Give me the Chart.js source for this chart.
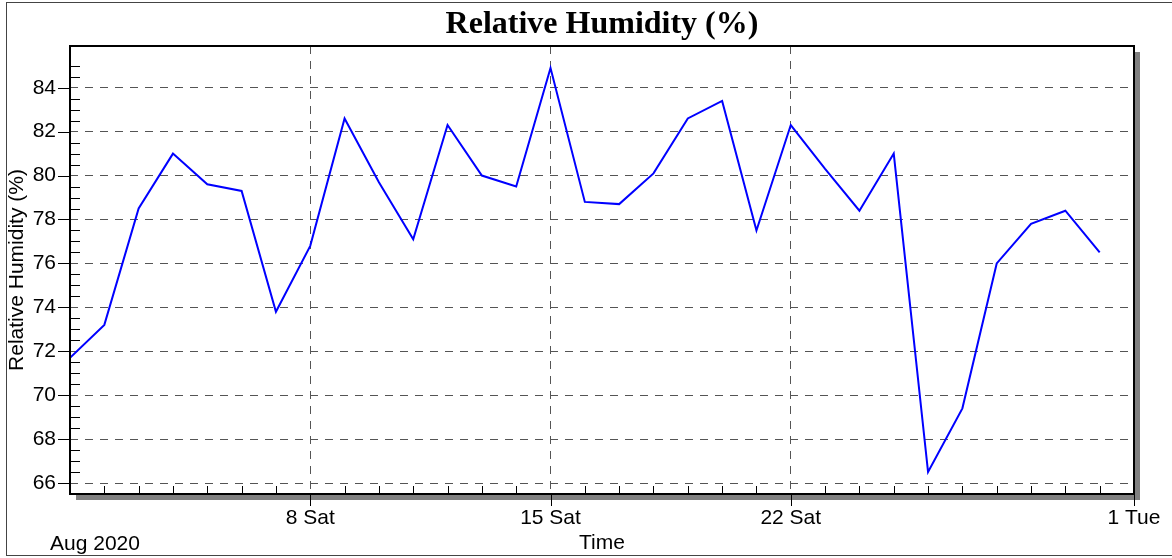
<!DOCTYPE html>
<html>
<head>
<meta charset="utf-8">
<script src="https://cdn.jsdelivr.net/npm/chart.js@4.4.0/dist/chart.umd.min.js"></script>
<style>
  html, body { margin: 0; padding: 0; background: #fff; }
  canvas { display: block; }
</style>
</head>
<body>
<canvas id="rh" width="1172" height="558"></canvas>
<script>
// day of month, Aug 2020
const days = [1, 2, 3, 4, 5, 6, 7, 8, 9, 10, 11, 12, 13, 14, 15, 16,
  17, 18, 19, 20, 21, 22, 23, 24, 25, 26, 27, 28, 29, 30, 31];
const humidity = [71.7, 73.2, 78.5, 81.0, 79.6, 79.3, 73.8, 76.8, 82.6, 79.7, 77.1,
  82.3, 80.0, 79.5, 84.9, 78.8, 78.7, 80.1, 82.6, 83.4, 77.5, 82.3, 80.3, 78.4,
  81.0, 66.5, 69.4, 76.0, 77.8, 78.4, 76.5];
const majorDays = [8, 15, 22, 32];
const majorLabels = ['8 Sat', '15 Sat', '22 Sat', '1 Tue'];
const monthLabel = 'Aug 2020';

const SANS = '"Liberation Sans", Arial, sans-serif';
Chart.defaults.font.family = SANS;
Chart.defaults.font.size = 21;
Chart.defaults.color = '#000';

function isMajorY(v) {
  return Math.abs(v - Math.round(v / 2) * 2) < 1e-6;
}
function isHalf(v) {
  return Math.abs(v * 2 - Math.round(v * 2)) < 1e-6;
}

const framePlugin = {
  id: 'frame',
  beforeDraw(chart) {
    const { ctx, chartArea: a } = chart;
    ctx.save();
    ctx.fillStyle = '#fff';
    ctx.fillRect(0, 0, chart.width, chart.height);
    ctx.strokeStyle = '#444';
    ctx.lineWidth = 1;
    ctx.strokeRect(6.5, 2.5, chart.width, 553);
    // drop shadow behind the plot
    ctx.fillStyle = '#808080';
    ctx.fillRect(a.left + 6, a.top + 6, a.right - a.left, a.bottom - a.top);
    ctx.fillStyle = '#fff';
    ctx.fillRect(a.left, a.top, a.right - a.left, a.bottom - a.top);
    ctx.restore();
  },
  afterDraw(chart) {
    const { ctx, chartArea: a } = chart;
    const x = chart.scales.x, y = chart.scales.y;
    ctx.save();
    ctx.strokeStyle = '#000';
    ctx.lineWidth = 1;
    ctx.beginPath();
    y.ticks.forEach(t => {
      const py = Math.round(y.getPixelForValue(t.value)) + 0.5;
      if (isMajorY(t.value)) {
        ctx.moveTo(a.left - 12, py); ctx.lineTo(a.left, py);
      } else if (isHalf(t.value) && t.value > y.min) {
        ctx.moveTo(a.left, py); ctx.lineTo(a.left + 10, py);
      }
    });
    x.ticks.forEach(t => {
      const px = Math.round(x.getPixelForValue(t.value)) + 0.5;
      if (majorDays.includes(t.value)) {
        ctx.moveTo(px, a.bottom); ctx.lineTo(px, a.bottom + 12);
      } else if (t.value > x.min) {
        ctx.moveTo(px, a.bottom); ctx.lineTo(px, a.bottom - 8);
      }
    });
    ctx.stroke();

    ctx.lineWidth = 2;
    ctx.strokeRect(a.left, a.top, a.right - a.left, a.bottom - a.top);

    ctx.fillStyle = '#000';
    ctx.font = '21px ' + SANS;
    ctx.textBaseline = 'alphabetic';
    ctx.textAlign = 'left';
    ctx.fillText(monthLabel, 50, 550);
    ctx.restore();
  }
};

new Chart(document.getElementById('rh'), {
  type: 'line',
  data: {
    datasets: [{
      data: days.map((d, i) => ({ x: d, y: humidity[i] })),
      borderColor: '#0000ff',
      borderWidth: 2,
      pointRadius: 0,
      tension: 0,
      fill: false
    }]
  },
  options: {
    responsive: false,
    animation: false,
    devicePixelRatio: 1,
    layout: { padding: { left: 0, right: 38, top: 0, bottom: 0 } },
    plugins: {
      legend: { display: false },
      tooltip: { enabled: false },
      title: {
        display: true,
        fullSize: false,
        text: 'Relative Humidity (%)',
        color: '#000',
        font: { family: '"Liberation Serif", "Times New Roman", serif', size: 32, weight: 'bold', lineHeight: 1.2 },
        padding: { top: 6, bottom: 1.6 }
      }
    },
    scales: {
      x: {
        type: 'linear',
        min: 1,
        max: 32,
        afterFit(scale) {
          scale.height = 64;
          scale.paddingLeft = 0;
          scale.paddingRight = 0;
        },
        ticks: {
          stepSize: 1,
          autoSkip: false,
          maxRotation: 0,
          padding: 12,
          callback: v => {
            const i = majorDays.indexOf(v);
            return i >= 0 ? majorLabels[i] : '';
          }
        },
        grid: {
          drawTicks: false,
          lineWidth: 1,
          color: c => (c.tick && majorDays.includes(c.tick.value) && c.tick.value < 32) ? '#555' : 'rgba(0,0,0,0)'
        },
        border: { display: false, dash: [8, 7] },
        title: { display: true, text: 'Time', padding: { top: 0, bottom: 2 } }
      },
      y: {
        min: 65.5,
        max: 85.9,
        afterFit(scale) {
          scale.width = 70;
          scale.paddingTop = 0;
          scale.paddingBottom = 0;
        },
        ticks: {
          stepSize: 0.5,
          autoSkip: false,
          padding: 14,
          callback: v => isMajorY(v) ? String(Math.round(v)) : ''
        },
        grid: {
          drawTicks: false,
          lineWidth: 1,
          color: c => (c.tick && isMajorY(c.tick.value)) ? '#555' : 'rgba(0,0,0,0)'
        },
        border: { display: false, dash: [8, 7] },
        title: { display: true, text: 'Relative Humidity (%)', padding: { top: 5, bottom: 0 } }
      }
    }
  },
  plugins: [framePlugin]
});
</script>
</body>
</html>
